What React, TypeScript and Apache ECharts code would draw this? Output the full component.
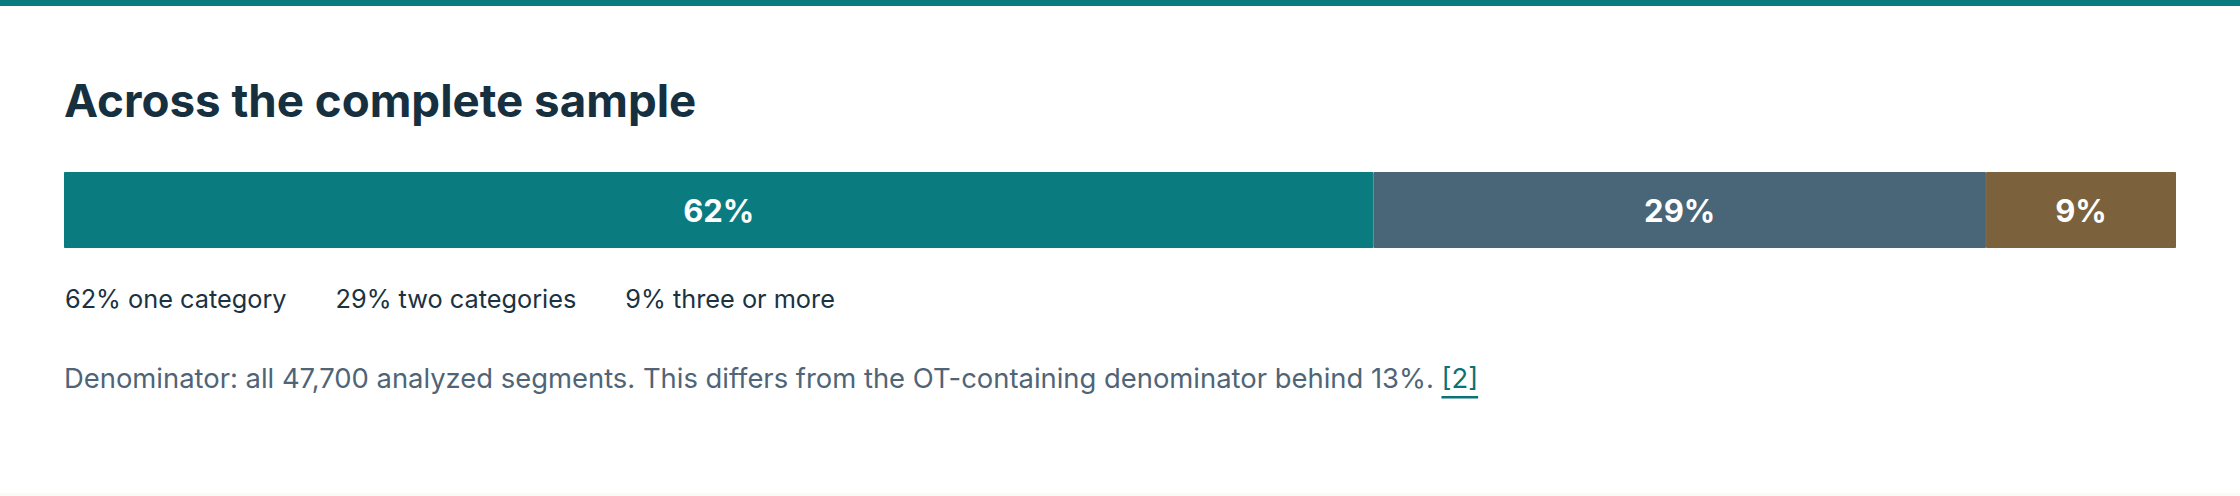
import React, { useEffect, useRef } from "react";
import * as echarts from "echarts";

const categories = ["Across the complete sample"];
const seriesNames = ["one category", "two categories", "three or more"];
const seriesValues = [62, 29, 9];
const seriesColors = ["#0a7c80", "#486678", "#7b623c"];
const titleText = "Across the complete sample";
const footnoteText =
  "Denominator: all 47,700 analyzed segments. This differs from the OT-containing denominator behind 13%. ";
const footnoteLink = "[2]";

const W = 2240;
const H = 496;
const FONT = "Inter, 'Noto Sans', sans-serif";

export default function App() {
  const ref = useRef<HTMLDivElement>(null);

  useEffect(() => {
    document.body.style.margin = "0";
    if (!ref.current) return;
    const chart = echarts.init(ref.current, null, { renderer: "svg", width: W, height: H });

    const footSize = 27.4;
    const canvas = document.createElement("canvas");
    const ctx = canvas.getContext("2d")!;
    ctx.font = `400 ${footSize}px Inter`;
    const mainW = ctx.measureText(footnoteText).width;
    const linkW = ctx.measureText(footnoteLink).width;
    const footX = 64;
    const footY = 378;

    const series = seriesNames.map((name, i) => ({
      type: "bar" as const,
      name,
      stack: "total",
      data: [seriesValues[i]],
      barWidth: 76,
      itemStyle: { color: seriesColors[i], borderColor: seriesColors[i], borderWidth: 1 },
      label: {
        show: true,
        position: "inside",
        formatter: "{c}%",
        color: "#ffffff",
        fontFamily: FONT,
        fontWeight: 700,
        fontSize: 31,
      },
      emphasis: { disabled: true },
    }));

    chart.setOption({
      animation: false,
      backgroundColor: "#ffffff",
      title: {
        text: titleText,
        left: 64,
        top: 77,
        padding: 0,
        textStyle: {
          fontFamily: FONT,
          fontWeight: 700,
          fontSize: 45.7,
          lineHeight: 46,
          color: "#16303f",
        },
      },
      legend: {
        data: seriesNames,
        left: 54,
        top: 281,
        itemWidth: 0,
        itemHeight: 0,
        itemGap: 43,
        icon: "rect",
        selectedMode: false,
        formatter: (name: string) => {
          const i = seriesNames.indexOf(name);
          return `${seriesValues[i]}% ${name}`;
        },
        textStyle: {
          fontFamily: FONT,
          fontSize: 25.3,
          lineHeight: 25,
          color: "#1a3242",
        },
      },
      grid: { left: 64, right: 64, top: 172, height: 76, containLabel: false },
      xAxis: { type: "value", min: 0, max: 100, show: false },
      yAxis: { type: "category", data: categories, show: false },
      tooltip: { show: false },
      series,
      graphic: [
        { type: "rect", shape: { x: 0, y: 0, width: W, height: 6 }, style: { fill: "#0a7c80" }, silent: true },
        { type: "rect", shape: { x: 0, y: H - 3, width: W, height: 3 }, style: { fill: "#fbfbf6" }, silent: true },
        {
          type: "text",
          x: footX,
          y: footY,
          style: {
            text: footnoteText,
            fontFamily: FONT,
            fontSize: footSize,
            fill: "#4f6577",
            textVerticalAlign: "middle",
          },
          silent: true,
        },
        {
          type: "text",
          x: footX + mainW,
          y: footY,
          style: {
            text: footnoteLink,
            fontFamily: FONT,
            fontSize: footSize,
            fill: "#0b7276",
            textVerticalAlign: "middle",
          },
          silent: true,
        },
        {
          type: "rect",
          shape: { x: footX + mainW, y: footY + 18, width: linkW, height: 2.5 },
          style: { fill: "#0b7276" },
          silent: true,
        },
      ],
    });

    return () => chart.dispose();
  }, []);

  return <div ref={ref} style={{ width: W, height: H }} />;
}
